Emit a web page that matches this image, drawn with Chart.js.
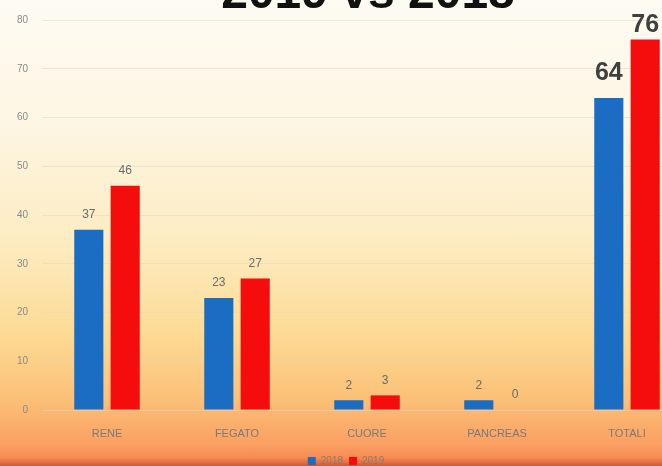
<!DOCTYPE html>
<html>
<head>
<meta charset="utf-8">
<script src="https://cdn.jsdelivr.net/npm/chart.js@4"></script>
<style>
  html, body { margin: 0; padding: 0; }
  body {
    width: 662px; height: 466px; overflow: hidden;
    background: linear-gradient(to bottom, #fefbf3 0px, #fdf6e4 120px, #fdecc2 240px, #fcdc96 330px, #fbc077 400px, #fa9f62 445px, #f68a52 458px, #d9653a 464px, #c95a33 466px);
  }
  #wrap { width: 700px; height: 476px; position: relative; }
</style>
</head>
<body>
<div id="wrap"><canvas id="c" width="700" height="476"></canvas></div>
<script>
const categories = ['RENE', 'FEGATO', 'CUORE', 'PANCREAS', 'TOTALI'];
const values2018 = [37, 23, 2, 2, 64];
const values2019 = [46, 27, 3, 0, 76];
const yTicks = [0, 10, 20, 30, 40, 50, 60, 70, 80];

// value labels above each bar (TOTALI ones are big and bold)
const barLabels = {
  id: 'barLabels',
  afterDatasetsDraw(chart) {
    const ctx = chart.ctx;
    ctx.save();
    ctx.textAlign = 'center';
    ctx.textBaseline = 'bottom';
    chart.data.datasets.forEach((ds, di) => {
      chart.getDatasetMeta(di).data.forEach((bar, i) => {
        const big = i === categories.length - 1;
        ctx.font = big ? 'bold 25px "Liberation Sans"' : '12px "Liberation Sans"';
        ctx.fillStyle = big ? '#3f3f3f' : '#6b6b6b';
        const off = big ? (di === 0 ? 12 : 2) : 9;
        ctx.fillText(ds.data[i], bar.x, bar.y - off);
      });
    });
    ctx.restore();
  }
};

// title, cut off by the top of the page
const topTitle = {
  id: 'topTitle',
  afterDraw(chart) {
    const ctx = chart.ctx;
    ctx.save();
    ctx.font = 'bold 48px "Liberation Sans"';
    ctx.fillStyle = '#111';
    ctx.textAlign = 'center';
    ctx.textBaseline = 'alphabetic';
    ctx.fillText('2019 vs 2018', 368, 8);
    ctx.restore();
  }
};

new Chart(document.getElementById('c'), {
  type: 'bar',
  data: {
    labels: categories,
    datasets: [
      { label: '2018', data: values2018, backgroundColor: '#1b6dc3', categoryPercentage: 0.56, barPercentage: 0.8 },
      { label: '2019', data: values2019, backgroundColor: '#f50c0c', categoryPercentage: 0.56, barPercentage: 0.8 }
    ]
  },
  options: {
    responsive: false,
    animation: false,
    layout: { padding: { top: 19, right: 8, bottom: 0, left: 0 } },
    scales: {
      x: {
        grid: { display: false, drawTicks: false },
        border: { display: false },
        ticks: { padding: 17, maxRotation: 0, autoSkip: false, color: '#7a7a7a', font: { family: 'Liberation Sans', size: 11 } },
        afterFit(scale) { scale.height = 40; }
      },
      y: {
        min: 0, max: 80,
        afterBuildTicks(scale) { scale.ticks = yTicks.map(v => ({ value: v })); },
        grid: { color: 'rgba(225,215,195,0.55)', drawTicks: false },
        border: { display: false },
        ticks: { padding: 14, color: '#8a8a8a', font: { family: 'Liberation Sans', size: 10 } },
        afterFit(scale) { scale.width = 42; }
      }
    },
    plugins: {
      legend: {
        position: 'bottom',
        labels: {
          boxWidth: 8, boxHeight: 8, padding: 6,
          color: '#8a7a70',
          font: { family: 'Liberation Sans', size: 10 }
        }
      },
      tooltip: { enabled: false }
    }
  },
  plugins: [barLabels, topTitle]
});
</script>
</body>
</html>
